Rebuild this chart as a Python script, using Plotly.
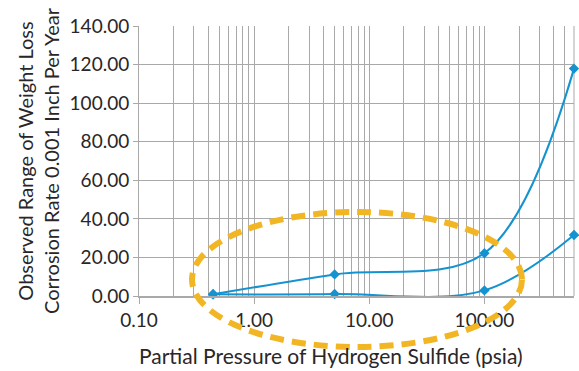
import numpy as np
import plotly.graph_objects as go

# Data
pressure = [0.44, 5.0, 100.0, 600.0]
upper_rate = [0.9, 11.2, 22.2, 117.9]
lower_rate = [0.9, 1.0, 2.9, 31.6]

major_vals = [0.1, 1, 10, 100]
major_text = ["0.10", "1.00", "10.00", "100.00"]
minor_vals = [m * 10.0 ** e for e in range(-1, 3) for m in range(2, 10) if m * 10.0 ** e <= 600]
y_ticks = [0, 20, 40, 60, 80, 100, 120, 140]

BLUE = "#1493D0"
GRID = "#A9A9A9"
TEXT = "#2A2627"
FONT = "Lato"

fig = go.Figure()
for ys in (upper_rate, lower_rate):
    fig.add_trace(go.Scatter(
        x=pressure, y=ys, mode="lines+markers",
        line=dict(color=BLUE, width=2, shape="spline", smoothing=1.0),
        marker=dict(symbol="diamond", size=8, color=BLUE),
        showlegend=False, cliponaxis=False,
    ))

L, R, T, B = 139, 5, 26, 75
W, H = 579, 371
pw, ph = W - L - R, H - T - B

def px2paper(x, y):
    return (x - L) / pw, (H - B - y) / ph

x0, y0 = px2paper(192, 212)
x1, y1 = px2paper(522, 347)
fig.add_shape(type="circle", xref="paper", yref="paper",
              x0=x0, y0=y1, x1=x1, y1=y0,
              line=dict(color="#F2B624", width=6, dash="14px,8px"))

tx, ty = px2paper(331, 355)
fig.add_annotation(text="Partial Pressure of Hydrogen Sulfide (psia)",
                   xref="paper", yref="paper", x=tx, y=ty,
                   xanchor="center", yanchor="middle", showarrow=False,
                   font=dict(size=21, family=FONT, color=TEXT))

fig.update_layout(
    width=W, height=H,
    margin=dict(l=L, r=R, t=T, b=B),
    paper_bgcolor="white", plot_bgcolor="white",
    font=dict(family=FONT, color=TEXT, size=19),
    xaxis=dict(
        type="log", range=[-1, np.log10(600)],
        tickvals=major_vals, ticktext=major_text,
        ticks="outside", ticklen=6, tickcolor=GRID, tickwidth=1,
        showgrid=True, gridcolor=GRID, gridwidth=1,
        minor=dict(tickvals=minor_vals, showgrid=True, gridcolor=GRID, gridwidth=1, ticks=""),
        showline=True, linecolor=GRID, linewidth=2, mirror=False,
        tickfont=dict(size=19),
        zeroline=False,
    ),
    yaxis=dict(
        range=[0, 140], tickvals=y_ticks,
        ticktext=[f"{v:.2f}" for v in y_ticks],
        ticks="outside", ticklen=5, tickcolor=GRID,
        showgrid=True, gridcolor=GRID, gridwidth=1,
        showline=True, linecolor=GRID, linewidth=1,
        tickfont=dict(size=19),
        title=dict(text="Observed Range of Weight Loss<br>Corrosion Rate 0.001 Inch Per Year",
                   font=dict(size=20), standoff=4),
        zeroline=False,
    ),
)
fig.add_shape(type="line", xref="paper", yref="paper", x0=1, x1=1, y0=0, y1=1,
              line=dict(color=GRID, width=1), layer="below")

fig.write_html("out.html")
